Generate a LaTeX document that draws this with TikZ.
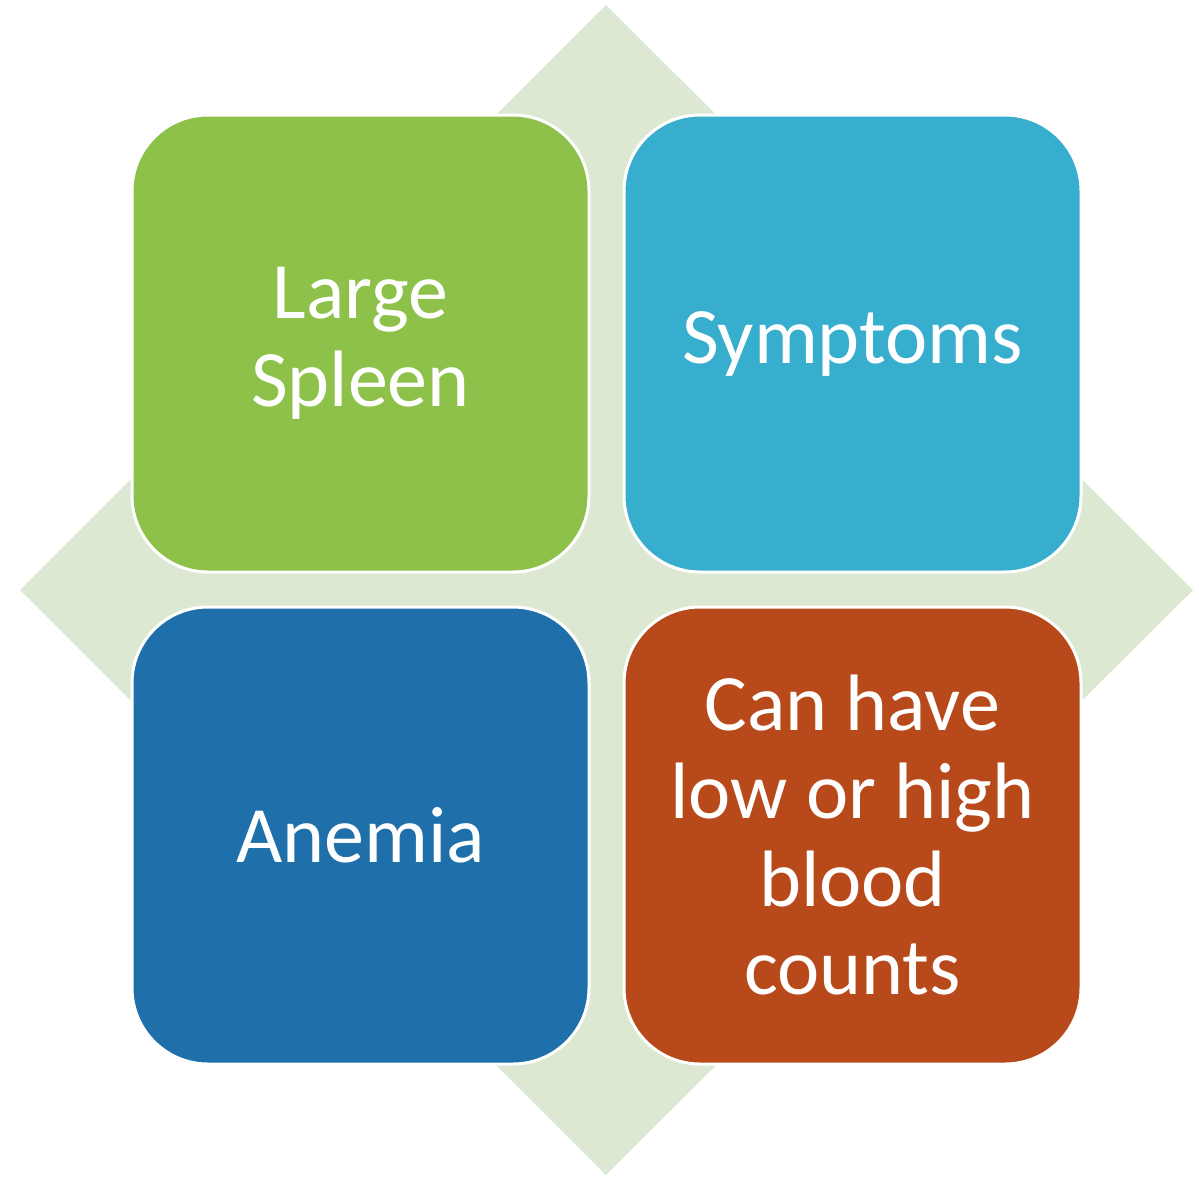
\documentclass[tikz,border=0pt]{standalone}
\usepackage{fontspec}
\setmainfont{Carlito}
\usetikzlibrary{positioning}
\definecolor{leaf}{HTML}{8DC149}
\definecolor{sky}{HTML}{38AECF}
\definecolor{deep}{HTML}{1F6FAA}
\definecolor{rust}{HTML}{B7491A}
\definecolor{sage}{HTML}{DCE8D2}

\begin{document}
\begin{tikzpicture}[x=0.5pt,y=-0.5pt,
  tile/.style={draw=white,line width=1.5pt,rounded corners=38pt,
    minimum width=228.5pt,minimum height=228.5pt,outer sep=0pt,
    text=white,align=center,font=\fontsize{40}{44}\selectfont},
  node distance=17.5pt]
  \useasboundingbox (0,0) rectangle (1199,1179);

  % Diamond behind
  \fill[sage] (606,5) -- (1193,590) -- (606,1175) -- (20,590) -- cycle;

  % Four tiles
  \node[tile,fill=leaf] (spleen) at (360.5,343.5) {Large\\Spleen};
  \node[tile,fill=sky,right=of spleen] (symptoms) {Symptoms};
  \node[tile,fill=deep,below=of spleen] (anemia) {Anemia};
  \node[tile,fill=rust,right=of anemia] (counts) {Can have\\low or high\\blood\\counts};
\end{tikzpicture}
\end{document}
